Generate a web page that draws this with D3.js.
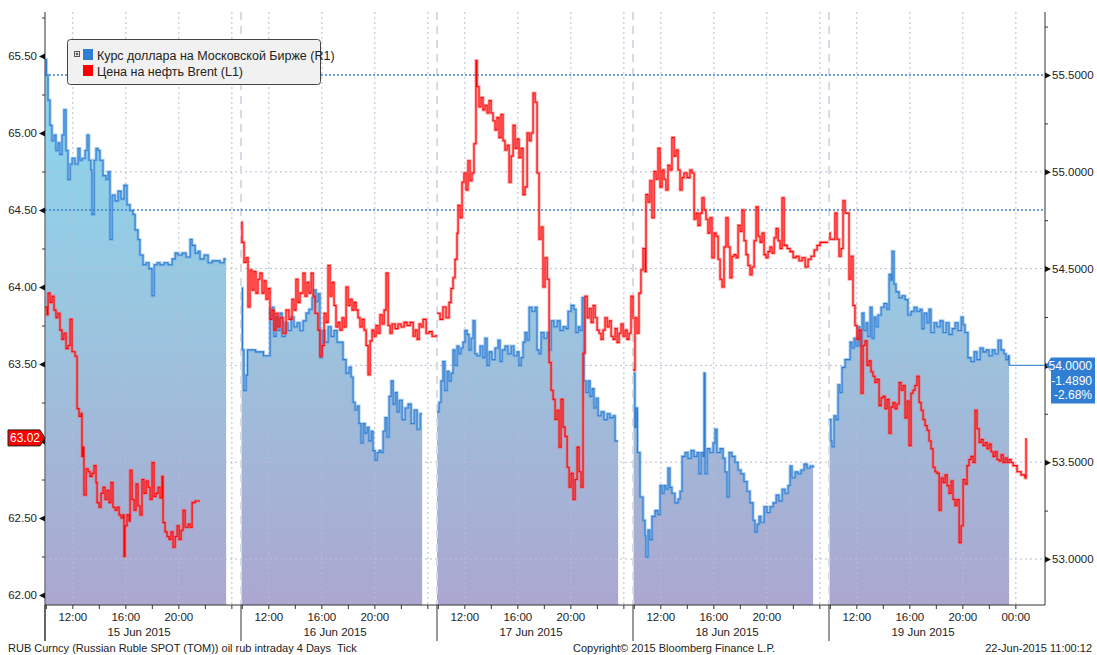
<!DOCTYPE html>
<html>
<head>
<meta charset="utf-8">
<script src="https://cdn.jsdelivr.net/npm/d3@7"></script>
<style>
body { margin: 0; background: #fff; }
text { font-family: "Liberation Sans", Arial, sans-serif; }
</style>
</head>
<body>
<script>
// trading days shown, each is one compressed session block on the x axis
var days = [15, 16, 17, 18, 19];
var dayLabels = ["15 Jun 2015", "16 Jun 2015", "17 Jun 2015", "18 Jun 2015", "19 Jun 2015"];

// USD/RUB, right axis: [hour of day, value]
var rub15 = [[9.94,55.58],[10.01,55.50],[10.13,55.37],[10.28,55.24],[10.43,55.16],[10.58,55.19],[10.73,55.11],[10.88,55.15],[11.03,55.09],[11.18,55.19],[11.33,55.32],[11.49,55.11],[11.64,54.96],[11.79,55.04],[11.94,55.07],[12.17,55.04],[12.39,55.12],[12.54,55.06],[12.69,55.07],[12.92,55.11],[13.07,55.19],[13.22,55.06],[13.37,55.01],[13.45,54.78],[13.60,55.06],[13.75,55.12],[13.90,55.11],[14.05,55.06],[14.28,54.98],[14.51,54.96],[14.66,55.00],[14.81,54.65],[14.96,54.88],[15.19,54.85],[15.41,54.90],[15.64,54.86],[15.86,54.93],[16.09,54.83],[16.32,54.80],[16.54,54.78],[16.70,54.70],[16.92,54.65],[17.07,54.57],[17.30,54.52],[17.53,54.53],[17.75,54.50],[17.98,54.36],[18.13,54.52],[18.36,54.53],[18.58,54.52],[18.88,54.53],[19.19,54.52],[19.49,54.55],[19.72,54.58],[19.94,54.57],[20.24,54.58],[20.55,54.56],[20.85,54.65],[21.00,54.62],[21.23,54.58],[21.45,54.59],[21.60,54.55],[21.90,54.57],[22.21,54.53],[22.51,54.54],[22.81,54.54],[23.11,54.53],[23.41,54.55],[23.57,54.55]];
var rub16 = [[9.94,54.40],[10.01,54.08],[10.13,53.87],[10.28,53.95],[10.39,54.08],[11.00,54.07],[11.60,54.05],[12.09,54.29],[12.24,54.30],[12.39,54.15],[12.54,54.25],[12.69,54.18],[12.84,54.27],[13.00,54.15],[13.22,54.22],[13.45,54.18],[13.68,54.25],[13.90,54.20],[14.13,54.22],[14.35,54.18],[14.58,54.23],[14.81,54.27],[15.03,54.29],[15.26,54.35],[15.41,54.39],[15.56,54.33],[15.71,54.37],[15.86,54.04],[16.02,54.18],[16.24,54.12],[16.47,54.20],[16.70,54.15],[16.92,54.18],[17.15,54.12],[17.37,54.12],[17.60,54.03],[17.83,53.96],[18.05,53.99],[18.21,53.94],[18.36,53.81],[18.51,53.77],[18.66,53.79],[18.81,53.70],[18.96,53.60],[19.11,53.70],[19.26,53.65],[19.41,53.68],[19.56,53.61],[19.72,53.66],[19.87,53.56],[20.02,53.51],[20.17,53.55],[20.32,53.56],[20.47,53.55],[20.62,53.66],[20.77,53.73],[20.92,53.63],[21.07,53.84],[21.23,53.92],[21.38,53.80],[21.53,53.86],[21.68,53.76],[21.83,53.82],[22.06,53.72],[22.28,53.78],[22.51,53.80],[22.74,53.70],[22.96,53.77],[23.19,53.67],[23.41,53.75],[23.57,53.75]];
var rub17 = [[9.90,53.76],[10.05,53.81],[10.20,53.92],[10.35,54.02],[10.50,53.87],[10.66,53.97],[10.81,53.92],[10.96,53.96],[11.11,54.08],[11.26,54.00],[11.41,54.10],[11.56,54.06],[11.71,54.09],[11.86,54.12],[12.01,54.18],[12.17,54.16],[12.32,54.08],[12.47,54.14],[12.62,54.23],[12.77,54.06],[12.92,54.05],[13.15,54.10],[13.37,54.04],[13.52,54.14],[13.68,54.00],[13.83,54.07],[14.05,54.03],[14.28,54.09],[14.51,54.13],[14.66,54.02],[14.81,54.08],[15.03,54.10],[15.26,54.06],[15.49,54.10],[15.71,54.05],[15.94,54.07],[16.09,54.00],[16.24,54.04],[16.39,54.12],[16.54,54.17],[16.70,54.13],[16.85,54.30],[17.07,54.28],[17.30,54.30],[17.45,54.08],[17.60,54.06],[17.75,54.17],[17.98,54.14],[18.21,54.17],[18.36,54.08],[18.51,54.23],[18.73,54.20],[18.96,54.23],[19.19,54.18],[19.41,54.20],[19.64,54.19],[19.79,54.28],[20.02,54.31],[20.24,54.29],[20.39,54.17],[20.55,54.20],[20.70,54.18],[20.85,54.35],[21.00,53.92],[21.15,53.86],[21.30,53.92],[21.45,53.84],[21.60,53.88],[21.75,53.78],[21.90,53.83],[22.06,53.74],[22.28,53.76],[22.51,53.72],[22.74,53.75],[22.96,53.73],[23.19,53.74],[23.34,53.61],[23.57,53.61]];
var rub18 = [[9.94,53.96],[10.05,53.68],[10.13,53.78],[10.24,53.55],[10.43,53.32],[10.58,53.32],[10.66,53.20],[10.81,53.12],[10.88,53.01],[11.03,53.15],[11.18,53.10],[11.33,53.22],[11.56,53.25],[11.79,53.23],[11.94,53.38],[12.09,53.34],[12.24,53.38],[12.39,53.36],[12.54,53.47],[12.69,53.37],[12.84,53.34],[13.07,53.29],[13.30,53.31],[13.45,53.35],[13.60,53.53],[13.83,53.55],[14.05,53.52],[14.28,53.56],[14.51,53.53],[14.73,53.55],[14.88,53.44],[15.03,53.55],[15.19,53.53],[15.26,53.96],[15.34,53.44],[15.49,53.57],[15.71,53.55],[15.94,53.60],[16.09,53.67],[16.24,53.55],[16.47,53.57],[16.70,53.52],[16.85,53.45],[17.00,53.32],[17.15,53.55],[17.37,53.53],[17.60,53.50],[17.83,53.46],[18.05,53.44],[18.28,53.40],[18.51,53.35],[18.73,53.29],[18.96,53.20],[19.11,53.14],[19.26,53.18],[19.41,53.22],[19.56,53.19],[19.79,53.27],[20.02,53.24],[20.24,53.27],[20.47,53.29],[20.70,53.33],[20.92,53.30],[21.15,53.36],[21.38,53.34],[21.60,53.38],[21.75,53.48],[21.90,53.42],[22.13,53.45],[22.36,53.44],[22.58,53.46],[22.81,53.49],[23.04,53.47],[23.26,53.48],[23.49,53.47]];
var rub19 = [[9.94,53.72],[10.05,53.61],[10.13,53.58],[10.28,53.74],[10.43,53.72],[10.58,53.90],[10.73,53.86],[10.88,53.99],[11.11,54.03],[11.33,54.03],[11.49,54.12],[11.64,54.09],[11.79,54.14],[11.94,54.10],[12.09,54.20],[12.24,54.10],[12.39,54.27],[12.54,54.18],[12.69,54.22],[12.84,54.15],[13.00,54.30],[13.15,54.14],[13.30,54.25],[13.45,54.20],[13.60,54.26],[13.83,54.30],[14.05,54.32],[14.28,54.29],[14.43,54.47],[14.58,54.44],[14.66,54.59],[14.81,54.42],[14.96,54.38],[15.19,54.35],[15.41,54.36],[15.64,54.34],[15.86,54.26],[16.09,54.28],[16.32,54.30],[16.54,54.28],[16.77,54.29],[16.92,54.19],[17.07,54.27],[17.30,54.22],[17.45,54.29],[17.60,54.17],[17.83,54.22],[18.05,54.20],[18.28,54.23],[18.51,54.17],[18.73,54.22],[18.96,54.16],[19.19,54.19],[19.41,54.22],[19.64,54.18],[19.87,54.25],[20.02,54.21],[20.17,54.17],[20.39,54.04],[20.62,54.02],[20.85,54.07],[21.07,54.03],[21.30,54.09],[21.53,54.07],[21.75,54.08],[21.98,54.05],[22.21,54.08],[22.43,54.06],[22.66,54.13],[22.89,54.08],[23.11,54.06],[23.26,54.03],[23.41,54.05],[23.49,54.00]];

// Brent, left axis: [hour of day, value]
var brent15 = [[9.90,63.87],[10.05,63.82],[10.13,63.96],[10.28,63.90],[10.43,63.94],[10.58,63.85],[10.73,63.80],[10.88,63.83],[11.03,63.72],[11.18,63.66],[11.33,63.70],[11.49,63.60],[11.64,63.62],[11.79,63.79],[11.94,63.58],[12.17,63.55],[12.32,63.21],[12.47,63.16],[12.62,63.18],[12.69,62.90],[12.77,62.96],[12.84,62.65],[13.00,62.82],[13.15,62.80],[13.30,62.77],[13.45,62.79],[13.60,62.84],[13.75,62.73],[13.83,62.60],[13.98,62.57],[14.13,62.66],[14.28,62.70],[14.43,62.62],[14.58,62.68],[14.73,62.60],[14.88,62.73],[15.03,62.57],[15.19,62.55],[15.34,62.57],[15.49,62.52],[15.64,62.50],[15.79,62.52],[15.86,62.25],[15.94,62.45],[16.09,62.52],[16.24,62.48],[16.32,62.81],[16.47,62.62],[16.62,62.55],[16.77,62.72],[16.92,62.58],[17.07,62.52],[17.22,62.75],[17.37,62.66],[17.53,62.74],[17.68,62.70],[17.83,62.62],[17.98,62.86],[18.13,62.64],[18.28,62.66],[18.43,62.70],[18.58,62.63],[18.73,62.77],[18.81,62.47],[18.96,62.41],[19.11,62.38],[19.26,62.36],[19.41,62.41],[19.56,62.31],[19.72,62.38],[19.87,62.45],[20.02,62.36],[20.17,62.42],[20.32,62.55],[20.47,62.44],[20.70,62.46],[20.85,62.44],[21.00,62.60],[21.23,62.61],[21.60,62.61]];
var brent16 = [[9.90,64.42],[9.98,64.29],[10.13,64.16],[10.28,64.19],[10.43,63.87],[10.58,64.11],[10.73,63.98],[10.88,64.10],[11.03,63.96],[11.18,64.05],[11.33,64.09],[11.49,63.96],[11.64,64.04],[11.79,63.92],[11.94,63.99],[12.09,63.79],[12.24,63.85],[12.39,63.72],[12.54,63.83],[12.69,63.74],[12.84,63.80],[13.07,63.70],[13.30,63.85],[13.52,63.79],[13.75,63.92],[13.90,63.85],[14.05,64.05],[14.20,63.90],[14.35,63.96],[14.58,64.09],[14.73,63.94],[14.88,64.03],[15.03,63.96],[15.19,64.09],[15.34,63.94],[15.49,63.83],[15.71,63.72],[15.86,63.55],[16.02,63.62],[16.17,63.83],[16.32,63.77],[16.47,64.14],[16.62,63.94],[16.77,64.03],[16.92,63.88],[17.07,63.74],[17.22,63.77],[17.37,63.72],[17.53,63.80],[17.68,63.74],[17.83,64.00],[17.98,63.88],[18.13,63.92],[18.28,63.85],[18.43,63.90],[18.58,63.85],[18.73,63.80],[18.88,63.74],[19.04,63.79],[19.19,63.72],[19.34,63.62],[19.49,63.43],[19.64,63.65],[19.79,63.72],[19.94,63.68],[20.09,63.75],[20.24,63.70],[20.39,63.82],[20.55,63.76],[20.70,63.85],[20.85,64.09],[21.00,63.75],[21.15,63.70],[21.30,63.76],[21.53,63.73],[21.75,63.76],[21.98,63.74],[22.21,63.77],[22.43,63.75],[22.66,63.77],[22.89,63.68],[23.04,63.72],[23.19,63.66],[23.34,63.76],[23.49,63.74],[23.64,63.79],[23.87,63.70],[24.09,63.71],[24.32,63.68],[24.62,63.69]];
var brent17 = [[9.90,63.83],[10.13,63.79],[10.35,63.87],[10.58,63.80],[10.81,63.90],[10.96,63.99],[11.11,64.06],[11.26,64.18],[11.41,64.35],[11.49,64.53],[11.64,64.45],[11.79,64.68],[11.94,64.74],[12.09,64.63],[12.24,64.82],[12.39,64.69],[12.54,64.74],[12.69,64.93],[12.84,65.47],[12.92,65.30],[13.07,65.17],[13.22,65.23],[13.37,65.15],[13.52,65.18],[13.68,65.13],[13.83,65.21],[13.98,65.13],[14.13,65.08],[14.28,65.02],[14.43,65.10],[14.58,64.97],[14.73,65.12],[14.88,64.95],[15.03,64.89],[15.19,64.92],[15.34,64.68],[15.49,64.85],[15.64,65.05],[15.79,64.90],[15.94,64.96],[16.09,64.84],[16.24,64.90],[16.39,64.60],[16.54,64.65],[16.70,65.00],[16.85,64.95],[17.00,65.00],[17.15,65.26],[17.30,65.20],[17.45,64.74],[17.60,64.31],[17.75,64.39],[17.90,64.00],[18.05,64.19],[18.21,64.05],[18.36,63.51],[18.51,63.33],[18.66,63.27],[18.81,63.14],[18.96,63.20],[19.11,62.96],[19.26,63.27],[19.41,63.09],[19.56,63.03],[19.72,62.83],[19.87,62.70],[20.02,62.79],[20.17,62.62],[20.32,62.75],[20.47,62.96],[20.62,62.80],[20.77,62.70],[20.92,63.57],[21.07,63.94],[21.23,63.80],[21.38,63.86],[21.53,63.77],[21.68,63.88],[21.83,63.80],[21.98,63.72],[22.13,63.70],[22.28,63.66],[22.43,63.72],[22.58,63.80],[22.74,63.74],[22.89,63.78],[23.04,63.68],[23.19,63.66],[23.34,63.73],[23.49,63.64],[23.64,63.70],[23.79,63.76],[23.94,63.68],[24.09,63.72],[24.24,63.66],[24.39,63.70],[24.54,63.94],[24.69,63.79]];
var brent18 = [[9.90,63.46],[10.05,63.80],[10.20,63.70],[10.35,63.96],[10.50,64.11],[10.66,64.25],[10.81,64.10],[10.88,64.60],[11.03,64.55],[11.18,64.69],[11.33,64.45],[11.49,64.75],[11.64,64.70],[11.79,64.90],[11.94,64.65],[12.09,64.76],[12.24,64.70],[12.39,64.63],[12.54,64.79],[12.69,64.76],[12.84,64.97],[13.00,64.85],[13.15,64.89],[13.30,64.76],[13.45,64.63],[13.60,64.71],[13.75,64.74],[13.98,64.71],[14.20,64.76],[14.35,64.74],[14.51,64.44],[14.66,64.48],[14.81,64.40],[14.96,64.48],[15.11,64.58],[15.26,64.50],[15.41,64.44],[15.56,64.35],[15.71,64.45],[15.86,64.19],[16.02,64.35],[16.17,64.33],[16.32,64.18],[16.47,64.05],[16.62,64.00],[16.77,64.26],[16.92,64.45],[17.07,64.26],[17.22,64.06],[17.37,64.20],[17.53,64.21],[17.68,64.19],[17.83,64.40],[17.98,64.36],[18.13,64.50],[18.28,64.30],[18.43,64.21],[18.58,64.14],[18.73,64.08],[18.88,64.13],[19.04,64.30],[19.19,64.52],[19.34,64.33],[19.49,64.29],[19.64,64.35],[19.79,64.21],[19.94,64.19],[20.09,64.23],[20.24,64.26],[20.39,64.22],[20.55,64.32],[20.70,64.38],[20.85,64.30],[21.00,64.25],[21.15,64.58],[21.30,64.27],[21.53,64.25],[21.75,64.23],[21.98,64.19],[22.21,64.20],[22.43,64.17],[22.66,64.19],[22.89,64.13],[23.11,64.18],[23.34,64.20],[23.57,64.24],[23.79,64.27],[24.02,64.29],[24.32,64.29],[24.62,64.29]];
var brent19 = [[9.90,64.35],[9.98,64.31],[10.20,64.31],[10.35,64.48],[10.50,64.31],[10.66,64.20],[10.81,64.25],[10.96,64.56],[11.11,64.48],[11.26,64.48],[11.41,64.05],[11.56,64.20],[11.71,63.88],[11.86,63.75],[12.01,63.66],[12.17,63.72],[12.32,63.31],[12.47,63.62],[12.62,63.65],[12.77,63.49],[12.92,63.52],[13.07,63.45],[13.22,63.42],[13.37,63.38],[13.52,63.40],[13.68,63.23],[13.83,63.28],[13.98,63.29],[14.13,63.21],[14.28,63.27],[14.43,63.05],[14.58,63.22],[14.73,63.25],[14.88,63.21],[15.03,63.24],[15.19,63.38],[15.34,63.33],[15.49,63.36],[15.64,63.15],[15.79,63.26],[15.94,62.97],[16.09,63.31],[16.24,63.33],[16.39,63.36],[16.54,63.42],[16.70,63.25],[16.85,63.20],[17.00,63.14],[17.15,63.10],[17.30,63.07],[17.45,63.00],[17.60,62.95],[17.75,62.83],[17.90,62.80],[18.05,62.79],[18.21,62.55],[18.36,62.76],[18.51,62.73],[18.66,62.78],[18.81,62.71],[18.96,62.66],[19.11,62.74],[19.26,62.62],[19.41,62.58],[19.56,62.62],[19.72,62.34],[19.87,62.45],[20.02,62.75],[20.17,62.72],[20.32,62.84],[20.47,62.88],[20.62,62.90],[20.77,62.86],[20.92,63.20],[21.07,63.08],[21.23,62.99],[21.38,63.01],[21.53,62.97],[21.68,62.99],[21.83,62.95],[21.98,62.98],[22.13,62.93],[22.28,62.90],[22.43,62.93],[22.58,62.88],[22.74,62.87],[22.89,62.91],[23.04,62.86],[23.19,62.89],[23.34,62.86],[23.49,62.88],[23.64,62.86],[23.79,62.84],[24.09,62.80],[24.39,62.78],[24.69,62.76],[24.77,63.02]];

var rubSeries = [rub15, rub16, rub17, rub18, rub19];
var brentSeries = [brent15, brent16, brent17, brent18, brent19];

// axis ticks
var leftTicks = [62, 62.5, 63, 63.5, 64, 64.5, 65, 65.5];
var leftMinor = [62.25, 62.75, 63.25, 63.75, 64.25, 64.75, 65.25, 65.75];
var rightTicks = [53, 53.5, 54, 54.5, 55, 55.5];
var rightMinor = [53.25, 53.75, 54.25, 54.75, 55.25, 55.75];
var tickHours = [10, 12, 14, 16, 18, 20, 22, 24];
var labelHours = [12, 16, 20];
var gridHours = [12, 16, 20, 24];

// last values
var lastRub = 54.0, rubChange = -1.4890, rubChangePct = -2.68;
var lastBrent = 63.02;

var width = 1097,
    height = 655;
var plotLeft = 45, plotRight = 1045, plotTop = 12, plotBottom = 605;
var blockW = 196;
var openHour = 9.9, closeHour = 24.69, lastCloseHour = 26.2;

var svg = d3.select("body").append("svg")
    .attr("width", width)
    .attr("height", height);

function when(day, h) {
  return new Date(new Date(2015, 5, day).getTime() + h * 3600000);
}

// each trading day is squeezed into its own block, nights are dropped
var xDom = [], xRng = [];
days.forEach(function(d, i) {
  var last = i == days.length - 1;
  xDom.push(when(d, openHour), when(d, last ? lastCloseHour : closeHour));
  xRng.push(plotLeft + i * blockW, last ? plotRight : plotLeft + (i + 1) * blockW);
});
var x = d3.scaleTime().domain(xDom).range(xRng);

var yL = d3.scaleLinear().domain([62, 65.5]).range([595, 56]);
var yR = d3.scaleLinear().domain([53, 55.5]).range([559, 75]);

var defs = svg.append("defs");
var grad = defs.append("linearGradient")
    .attr("id", "rubFill")
    .attr("gradientUnits", "userSpaceOnUse")
    .attr("x1", 0).attr("y1", plotTop).attr("x2", 0).attr("y2", plotBottom);
grad.append("stop").attr("offset", "0").attr("stop-color", "#84dcf3");
grad.append("stop").attr("offset", "0.5").attr("stop-color", "#9ac6e0");
grad.append("stop").attr("offset", "1").attr("stop-color", "#aba7d0");

defs.append("clipPath").attr("id", "plotClip")
  .append("rect")
    .attr("x", plotLeft).attr("y", plotTop)
    .attr("width", plotRight - plotLeft).attr("height", plotBottom - plotTop);

var plot = svg.append("g").attr("clip-path", "url(#plotClip)");

// filled area under the rouble line
rubSeries.forEach(function(s, i) {
  var area = d3.area()
      .x(function(d) { return x(when(days[i], d[0])); })
      .y0(plotBottom)
      .y1(function(d) { return yR(d[1]); })
      .curve(d3.curveStepAfter);
  plot.append("path")
      .attr("d", area(s))
      .attr("fill", "url(#rubFill)");
});

// horizontal grid (right axis)
plot.append("g")
  .selectAll("line")
  .data(rightTicks.filter(function(v) { return v != 55.5; }))
  .enter().append("line")
    .attr("x1", plotLeft).attr("x2", plotRight)
    .attr("y1", function(d) { return yR(d); })
    .attr("y2", function(d) { return yR(d); })
    .attr("stroke", "#b8bdd0")
    .attr("stroke-dasharray", "2,3");

// vertical grid at every 4 hours
days.forEach(function(d, i) {
  plot.append("g")
    .selectAll("line")
    .data(gridHours)
    .enter().append("line")
      .attr("x1", function(h) { return x(when(d, h)); })
      .attr("x2", function(h) { return x(when(d, h)); })
      .attr("y1", plotTop).attr("y2", plotBottom)
      .attr("stroke", "#b8bdd0")
      .attr("stroke-dasharray", "2,3");
});

// day separators
plot.append("g")
  .selectAll("line")
  .data(days.slice(1))
  .enter().append("line")
    .attr("x1", function(d) { return x(when(d, openHour)); })
    .attr("x2", function(d) { return x(when(d, openHour)); })
    .attr("y1", plotTop).attr("y2", plotBottom)
    .attr("stroke", "#d8dbe3")
    .attr("stroke-width", 2)
    .attr("stroke-dasharray", "8,6");

// blue dotted reference lines
plot.append("line")
    .attr("x1", plotLeft).attr("x2", plotRight)
    .attr("y1", yR(55.5)).attr("y2", yR(55.5))
    .attr("stroke", "#3f80cf").attr("stroke-width", 1.6)
    .attr("stroke-dasharray", "2,2");
plot.append("line")
    .attr("x1", plotLeft).attr("x2", plotRight)
    .attr("y1", yL(64.5)).attr("y2", yL(64.5))
    .attr("stroke", "#3f80cf").attr("stroke-width", 1.6)
    .attr("stroke-dasharray", "2,2");

// rouble line
rubSeries.forEach(function(s, i) {
  var line = d3.line()
      .x(function(d) { return x(when(days[i], d[0])); })
      .y(function(d) { return yR(d[1]); })
      .curve(d3.curveStepAfter);
  plot.append("path").attr("d", line(s))
      .attr("fill", "none").attr("stroke", "#5aa2e4")
      .attr("stroke-opacity", 0.5).attr("stroke-width", 3);
  plot.append("path").attr("d", line(s))
      .attr("fill", "none").attr("stroke", "#2f7bd2")
      .attr("stroke-width", 1.1);
});

// last value extension of the rouble line
var lastPt = rub19[rub19.length - 1];
plot.append("line")
    .attr("x1", x(when(19, lastPt[0]))).attr("x2", plotRight)
    .attr("y1", yR(lastRub)).attr("y2", yR(lastRub))
    .attr("stroke", "#4a8fd8").attr("stroke-width", 1.2);

// brent line
brentSeries.forEach(function(s, i) {
  var line = d3.line()
      .x(function(d) { return x(when(days[i], d[0])); })
      .y(function(d) { return yL(d[1]); })
      .curve(d3.curveStepAfter);
  plot.append("path").attr("d", line(s))
      .attr("fill", "none").attr("stroke", "#ff5a5a")
      .attr("stroke-opacity", 0.55).attr("stroke-width", 3);
  plot.append("path").attr("d", line(s))
      .attr("fill", "none").attr("stroke", "#ff0000")
      .attr("stroke-width", 1.1);
});

// axis lines
svg.append("line")
    .attr("x1", plotLeft).attr("x2", plotLeft)
    .attr("y1", plotTop).attr("y2", plotBottom + 36)
    .attr("stroke", "#333");
svg.append("line")
    .attr("x1", plotRight).attr("x2", plotRight)
    .attr("y1", plotTop).attr("y2", plotBottom)
    .attr("stroke", "#333");
svg.append("line")
    .attr("x1", plotLeft).attr("x2", plotRight)
    .attr("y1", plotBottom).attr("y2", plotBottom)
    .attr("stroke", "#333");

// left axis (the 63.00 label sits under the last-value tag, as in the source)
var leftAxis = svg.append("g")
    .attr("transform", "translate(" + plotLeft + ",0)")
    .call(d3.axisLeft(yL).tickValues(leftTicks)
      .tickFormat(function(v) { return v == 63 ? "" : d3.format(".2f")(v); })
      .tickSize(0).tickPadding(8));
leftAxis.select(".domain").remove();
leftAxis.selectAll("text")
    .attr("font-family", "Liberation Sans, Arial, sans-serif")
    .attr("font-size", 11.5).attr("fill", "#222");
leftAxis.selectAll(".tick").append("path")
    .attr("d", "M0,-3L-6,0L0,3Z").attr("fill", "#111");
var leftMinorAxis = svg.append("g")
    .attr("transform", "translate(" + plotLeft + ",0)")
    .call(d3.axisLeft(yL).tickValues(leftMinor).tickFormat("").tickSize(3));
leftMinorAxis.select(".domain").remove();
leftMinorAxis.selectAll("line").attr("stroke", "#333");

// right axis (54.0000 is hidden by the last-value tag)
var rightAxis = svg.append("g")
    .attr("transform", "translate(" + plotRight + ",0)")
    .call(d3.axisRight(yR).tickValues(rightTicks)
      .tickFormat(function(v) { return v == 54 ? "" : d3.format(".4f")(v); })
      .tickSize(0).tickPadding(7));
rightAxis.select(".domain").remove();
rightAxis.selectAll("text")
    .attr("font-family", "Liberation Sans, Arial, sans-serif")
    .attr("font-size", 11.5).attr("fill", "#222");
rightAxis.selectAll(".tick").append("path")
    .attr("d", "M0,-3L6,0L0,3Z").attr("fill", "#111");
var rightMinorAxis = svg.append("g")
    .attr("transform", "translate(" + plotRight + ",0)")
    .call(d3.axisRight(yR).tickValues(rightMinor).tickFormat("").tickSize(3));
rightMinorAxis.select(".domain").remove();
rightMinorAxis.selectAll("line").attr("stroke", "#333");

// time axis
var fmtHour = d3.timeFormat("%H:%M");
var xAxis = svg.append("g").attr("font-size", 11.5).attr("fill", "#222");
days.forEach(function(d, i) {
  var last = i == days.length - 1;
  xAxis.append("line")
      .attr("x1", x(when(d, openHour))).attr("x2", x(when(d, openHour)))
      .attr("y1", plotBottom).attr("y2", plotBottom + 36)
      .attr("stroke", "#333");
  xAxis.selectAll(null)
    .data(tickHours)
    .enter().append("line")
      .attr("x1", function(h) { return x(when(d, h)); })
      .attr("x2", function(h) { return x(when(d, h)); })
      .attr("y1", plotBottom).attr("y2", plotBottom + 4)
      .attr("stroke", "#333");
  xAxis.selectAll(null)
    .data(last ? labelHours.concat([24]) : labelHours)
    .enter().append("text")
      .attr("x", function(h) { return x(when(d, h)); })
      .attr("y", plotBottom + 16)
      .attr("text-anchor", "middle")
      .text(function(h) { return fmtHour(when(d, h)); });
  xAxis.append("text")
      .attr("x", x(when(d, 17)))
      .attr("y", plotBottom + 31)
      .attr("text-anchor", "middle")
      .text(dayLabels[i]);
});

// last value tags
var yb = yL(lastBrent);
svg.append("path")
    .attr("d", "M8," + (yb - 8) + "H40L45," + yb + "L40," + (yb + 8) + "H8Z")
    .attr("fill", "#ff0000").attr("stroke", "#222").attr("stroke-width", 1);
svg.append("text")
    .attr("x", 25).attr("y", yb + 4.5)
    .attr("text-anchor", "middle")
    .attr("font-size", 12).attr("fill", "#fff")
    .text(d3.format(".2f")(lastBrent));

var yr = yR(lastRub);
svg.append("path")
    .attr("d", "M1046," + yr + "L1051," + (yr - 8) + "H1095V" + (yr + 38) + "H1051V" + (yr + 6) + "Z")
    .attr("fill", "#2f7ed3");
svg.append("g")
  .selectAll("text")
  .data([d3.format(".4f")(lastRub), d3.format(".4f")(rubChange), d3.format(".2f")(rubChangePct) + "%"])
  .enter().append("text")
    .attr("x", 1092)
    .attr("y", function(d, i) { return yr + 5 + i * 14.5; })
    .attr("text-anchor", "end")
    .attr("font-size", 12).attr("fill", "#fff")
    .text(function(d) { return d.replace("\u2212", "-"); });

// legend
var legend = svg.append("g");
legend.append("rect")
    .attr("x", 67.5).attr("y", 39.5).attr("width", 253).attr("height", 45)
    .attr("rx", 3).attr("fill", "#f1f1f1").attr("stroke", "#444");
legend.append("rect")
    .attr("x", 74.5).attr("y", 51.5).attr("width", 5).attr("height", 5)
    .attr("fill", "#fff").attr("stroke", "#555");
legend.append("path")
    .attr("d", "M75.5,54H78.5M77,52.5V55.5").attr("stroke", "#333");
legend.append("rect")
    .attr("x", 83).attr("y", 49).attr("width", 10).attr("height", 11)
    .attr("fill", "#2e7ed6");
legend.append("rect")
    .attr("x", 83).attr("y", 65).attr("width", 10).attr("height", 11)
    .attr("fill", "#ff0000");
legend.append("text")
    .attr("x", 97).attr("y", 60)
    .attr("font-size", 12.5).attr("fill", "#222")
    .text("Курс доллара на Московской Бирже (R1)");
legend.append("text")
    .attr("x", 97).attr("y", 76)
    .attr("font-size", 12.5).attr("fill", "#222")
    .text("Цена на нефть Brent (L1)");

// footer
svg.append("text")
    .attr("x", 8).attr("y", 652)
    .attr("font-size", 11).attr("fill", "#222")
    .attr("xml:space", "preserve")
    .text("RUB Curncy (Russian Ruble SPOT (TOM)) oil rub intraday 4 Days  Tick");
svg.append("text")
    .attr("x", 573).attr("y", 652)
    .attr("font-size", 11).attr("fill", "#222")
    .text("Copyright\u00a9 2015 Bloomberg Finance L.P.");
svg.append("text")
    .attr("x", 1092).attr("y", 652)
    .attr("text-anchor", "end")
    .attr("font-size", 11).attr("fill", "#222")
    .text("22-Jun-2015 11:00:12");
</script>
</body>
</html>
